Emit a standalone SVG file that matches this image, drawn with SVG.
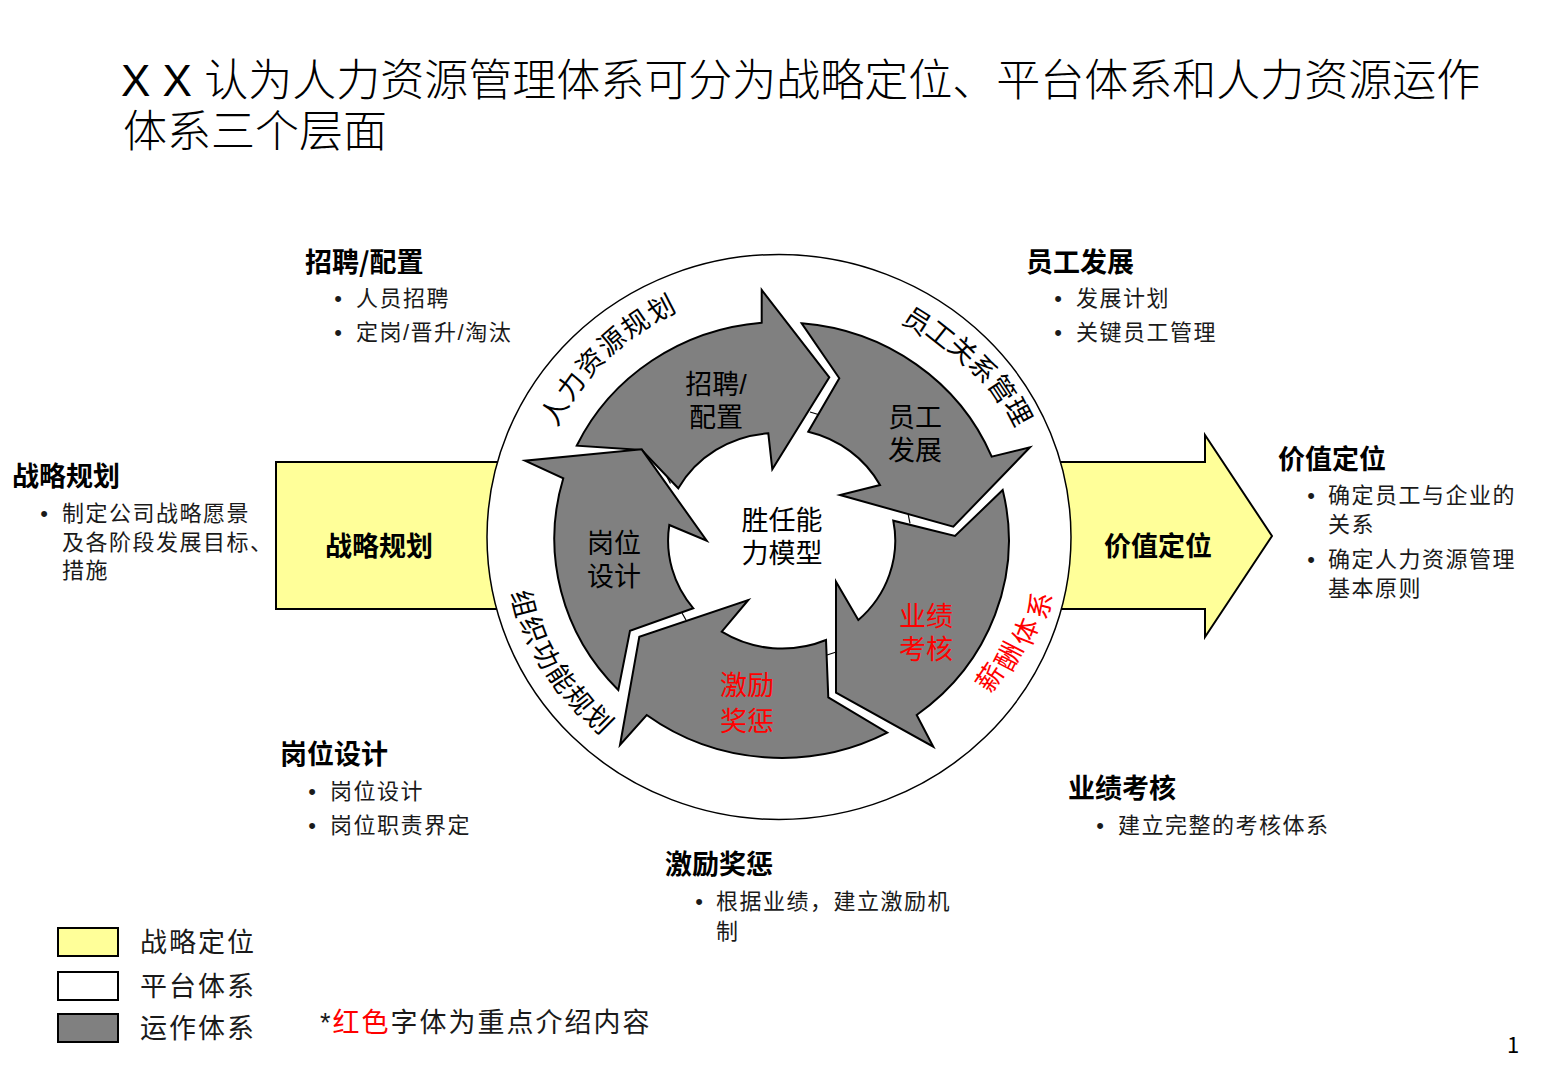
<svg xmlns="http://www.w3.org/2000/svg" width="1560" height="1080" viewBox="0 0 1560 1080">
<defs>
<style>
text{font-family:"Noto Sans CJK SC","Liberation Sans",sans-serif;fill:#000}
.title{font-family:"Liberation Sans","Noto Sans CJK SC",sans-serif;font-size:44px;font-weight:300}
.h{font-size:27px;font-weight:700}
.b{font-family:"Liberation Sans","Noto Sans CJK SC",sans-serif;font-size:22px;letter-spacing:1.5px;fill:#1a1a1a}
.dot{font-family:"Liberation Sans",sans-serif;font-size:22px;text-anchor:middle;fill:#1a1a1a}
.lbl{font-family:"Liberation Sans","Noto Sans CJK SC",sans-serif;font-size:27px;text-anchor:middle}
.rl{font-size:27px;font-weight:700;text-anchor:middle}
.ring text{font-size:27px;text-anchor:middle;dominant-baseline:central}
.red{fill:#ff0000}
.ring .red{fill:#ff0000}
.arrow{fill:#808080;stroke:#000;stroke-width:2;stroke-linejoin:miter}
.yel{fill:#ffff99;stroke:#000;stroke-width:2}
.leg{font-size:27px;letter-spacing:2px;fill:#1a1a1a}
.tick{stroke:#000;stroke-width:1.2;fill:none}
</style>
</defs>
<rect width="1560" height="1080" fill="#fff"/>

<g id="title">
<text class="title"><tspan x="121" y="96">X X 认为人力资源管理体系可分为战略定位、平台体系和人力资源运作</tspan><tspan x="123" y="147">体系三个层面</tspan></text>
</g>

<g id="node-strategy">
<rect class="yel" x="276" y="462" width="240" height="147"/>
<text class="rl" x="379" y="556">战略规划</text>
</g>

<g id="node-value">
<polygon class="yel" points="1030,462 1205,462 1205,435 1272,536 1205,637 1205,609 1030,609"/>
<text class="rl" x="1158" y="556">价值定位</text>
</g>

<g id="node-platform">
<ellipse cx="779" cy="537" rx="292" ry="282.5" fill="#fff" stroke="#000" stroke-width="1.5"/>
<g class="ring" id="ring-hr">
<text transform="translate(553.1 410.2) rotate(-60.7)">人</text>
<text transform="translate(569.5 384.8) rotate(-54)">力</text>
<text transform="translate(588.7 361.3) rotate(-47.3)">资</text>
<text transform="translate(610.4 340.3) rotate(-40.6)">源</text>
<text transform="translate(634.2 322.3) rotate(-34)">规</text>
<text transform="translate(660.2 306.9) rotate(-27.3)">划</text>
</g>
<g class="ring" id="ring-er">
<text transform="translate(918 319.6) rotate(32.6)">员</text>
<text transform="translate(941.6 333.1) rotate(38.56)">工</text>
<text transform="translate(963.9 349.1) rotate(44.52)">关</text>
<text transform="translate(984.5 367.5) rotate(50.48)">系</text>
<text transform="translate(1003.3 388.2) rotate(56.44)">管</text>
<text transform="translate(1020 411) rotate(62.4)">理</text>
</g>
<g class="ring" id="ring-pay">
<text class="red" transform="translate(988.3 676.6) rotate(-56.3)">薪</text>
<text class="red" transform="translate(1007.3 655.2) rotate(-62.63)">酬</text>
<text class="red" transform="translate(1024 631.2) rotate(-68.97)">体</text>
<text class="red" transform="translate(1038.2 605) rotate(-75.3)">系</text>
</g>
<g class="ring" id="ring-org">
<text transform="translate(525 603.2) rotate(75.4)">组</text>
<text transform="translate(535 629.4) rotate(69.26)">织</text>
<text transform="translate(547.7 654.3) rotate(63.12)">功</text>
<text transform="translate(562.8 677.5) rotate(56.98)">能</text>
<text transform="translate(580.3 698.8) rotate(50.84)">规</text>
<text transform="translate(599.9 718) rotate(44.7)">划</text>
</g>
</g>

<g id="node-recruit">
<path class="arrow" d="M576.7 445.7 A226 217 0 0 1 761.7 322.7 L761.7 290 L829.3 377.3 L772.3 469.3 L768.3 433.3 A112 107 0 0 0 678.3 488.3 L641.7 450 Z"/>
<text class="lbl"><tspan x="716" y="394">招聘/</tspan><tspan x="716" y="427">配置</tspan></text>
</g>

<g id="node-develop">
<path class="arrow" d="M801.7 323.3 A226 217 0 0 1 991.7 456.7 L1030 447.3 L953.3 526.7 L840 495 L880 485 A112 107 0 0 0 808.3 431.7 L839.3 378.3 Z"/>
<text class="lbl"><tspan x="915" y="427">员工</tspan><tspan x="915" y="460">发展</tspan></text>
</g>

<g id="node-perf">
<path class="arrow" d="M1002.7 490 A226 217 0 0 1 916.7 715 L933.3 746.7 L836 692.7 L836 581.7 L858.3 620 A112 107 0 0 0 893.3 520.7 L955 536 Z"/>
<text class="lbl red"><tspan x="926" y="626">业绩</tspan><tspan x="926" y="659">考核</tspan></text>
</g>

<g id="node-reward">
<path class="arrow" d="M887.3 732.7 A226 217 0 0 1 646.7 715 L620 745 L639.3 636.7 L748.3 600 L721.7 631.7 A112 107 0 0 0 826 640 L828.3 697.3 Z"/>
<text class="lbl red"><tspan x="747" y="695">激励</tspan><tspan x="747" y="731">奖惩</tspan></text>
</g>

<g id="node-post">
<path class="arrow" d="M618.3 690 A226 217 0 0 1 563.3 478.3 L525 460.7 L641.7 449.3 L706.7 540.7 L669.3 525 A112 107 0 0 0 693.3 608.3 L630 630.7 Z"/>
<text class="lbl"><tspan x="614" y="553">岗位</tspan><tspan x="614" y="586">设计</tspan></text>
</g>

<g id="node-core">
<text class="lbl"><tspan x="782" y="530">胜任能</tspan><tspan x="782" y="563">力模型</tspan></text>
</g>

<g id="connectors">
<line class="tick" x1="810" y1="412" x2="818.3" y2="414.5"/>
<line class="tick" x1="667" y1="477" x2="670.5" y2="483.5"/>
<line class="tick" x1="682" y1="613" x2="686" y2="620"/>
<line class="tick" x1="827" y1="655" x2="837" y2="651.7"/>
<line class="tick" x1="908.3" y1="515" x2="910" y2="523.3"/>
</g>

<g id="desc-recruit">
<text class="h" x="305" y="272">招聘/配置</text>
<text class="dot" x="338" y="306">•</text><text class="b" x="356" y="306">人员招聘</text>
<text class="dot" x="338" y="340">•</text><text class="b" x="356" y="340">定岗/晋升/淘汰</text>
</g>

<g id="desc-develop">
<text class="h" x="1026" y="272">员工发展</text>
<text class="dot" x="1058" y="306">•</text><text class="b" x="1076" y="306">发展计划</text>
<text class="dot" x="1058" y="340">•</text><text class="b" x="1076" y="340">关键员工管理</text>
</g>

<g id="desc-strategy">
<text class="h" x="12" y="486">战略规划</text>
<text class="dot" x="44" y="521">•</text>
<text class="b"><tspan x="62" y="521">制定公司战略愿景</tspan><tspan x="62" y="550">及各阶段发展目标、</tspan><tspan x="62" y="578">措施</tspan></text>
</g>

<g id="desc-value">
<text class="h" x="1278" y="469">价值定位</text>
<text class="dot" x="1311" y="503">•</text>
<text class="b"><tspan x="1328" y="503">确定员工与企业的</tspan><tspan x="1328" y="532">关系</tspan></text>
<text class="dot" x="1311" y="567">•</text>
<text class="b"><tspan x="1328" y="567">确定人力资源管理</tspan><tspan x="1328" y="596">基本原则</tspan></text>
</g>

<g id="desc-post">
<text class="h" x="280" y="764">岗位设计</text>
<text class="dot" x="312" y="799">•</text><text class="b" x="330" y="799">岗位设计</text>
<text class="dot" x="312" y="833">•</text><text class="b" x="330" y="833">岗位职责界定</text>
</g>

<g id="desc-perf">
<text class="h" x="1068" y="798">业绩考核</text>
<text class="dot" x="1100" y="833">•</text><text class="b" x="1118" y="833">建立完整的考核体系</text>
</g>

<g id="desc-reward">
<text class="h" x="665" y="874">激励奖惩</text>
<text class="dot" x="699" y="909">•</text>
<text class="b"><tspan x="716" y="909">根据业绩，建立激励机</tspan><tspan x="716" y="939">制</tspan></text>
</g>

<g id="legend">
<rect x="58" y="928" width="60" height="28" fill="#ffff99" stroke="#000" stroke-width="2"/>
<rect x="58" y="972" width="60" height="28" fill="#fff" stroke="#000" stroke-width="2"/>
<rect x="58" y="1014" width="60" height="28" fill="#808080" stroke="#000" stroke-width="2"/>
<text class="leg" x="140" y="952">战略定位</text>
<text class="leg" x="140" y="996">平台体系</text>
<text class="leg" x="140" y="1038">运作体系</text>
</g>

<g id="note">
<text class="leg" x="320" y="1032"><tspan font-family="Liberation Sans, sans-serif">*</tspan><tspan class="red">红色</tspan>字体为重点介绍内容</text>
</g>

<g id="page">
<text x="1507" y="1053" font-family="Liberation Serif, serif" font-size="22">1</text>
</g>
</svg>
